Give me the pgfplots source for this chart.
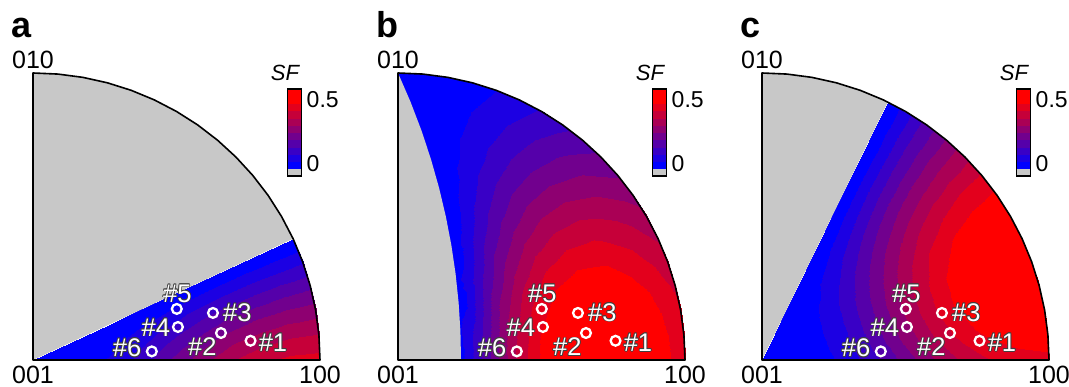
\documentclass[border=0pt]{standalone}
\usepackage{fontspec}
\setmainfont{Liberation Sans}
\usepackage{pgfplots}
\usepackage{pgfplotstable}
\pgfplotsset{compat=1.18}
\definecolor{sfgray}{RGB}{200,200,200}

% Panel a: SF on polar grid (r = stereographic radius, t = azimuth in degrees)
\pgfplotstableread[row sep=\\]{
r t sf\\
0 0 0\\ 0 5 0\\ 0 10 0\\ 0 15 0\\ 0 20 0\\ 0 25 0\\
0.1 0 0.003\\ 0.1 5 0.0025\\ 0.1 10 0.0019\\ 0.1 15 0.0013\\ 0.1 20 0.0007\\ 0.1 25 0\\
0.2 0 0.0218\\ 0.2 5 0.0183\\ 0.2 10 0.0143\\ 0.2 15 0.0097\\ 0.2 20 0.0049\\ 0.2 25 0\\
0.3 0 0.0637\\ 0.3 5 0.0534\\ 0.3 10 0.0416\\ 0.3 15 0.0285\\ 0.3 20 0.0144\\ 0.3 25 0\\
0.4 0 0.1258\\ 0.4 5 0.1054\\ 0.4 10 0.0821\\ 0.4 15 0.0562\\ 0.4 20 0.0285\\ 0.4 25 0\\
0.5 0 0.196\\ 0.5 5 0.1643\\ 0.5 10 0.128\\ 0.5 15 0.0876\\ 0.5 20 0.0444\\ 0.5 25 0\\
0.6 0 0.2627\\ 0.6 5 0.2202\\ 0.6 10 0.1715\\ 0.6 15 0.1173\\ 0.6 20 0.0595\\ 0.6 25 0\\
0.7 0 0.3181\\ 0.7 5 0.2666\\ 0.7 10 0.2077\\ 0.7 15 0.142\\ 0.7 20 0.0721\\ 0.7 25 0\\
0.8 0 0.3561\\ 0.8 5 0.2984\\ 0.8 10 0.2324\\ 0.8 15 0.159\\ 0.8 20 0.0807\\ 0.8 25 0\\
0.9 0 0.3761\\ 0.9 5 0.3152\\ 0.9 10 0.2455\\ 0.9 15 0.1679\\ 0.9 20 0.0852\\ 0.9 25 0\\
1 0 0.383\\ 1 5 0.321\\ 1 10 0.25\\ 1 15 0.171\\ 1 20 0.0868\\ 1 25 0\\
}\tabA

% Panel b
\pgfplotstableread[row sep=\\]{
r t sf\\
0 0 -0.38\\ 0 5 -0.38\\ 0 10 -0.38\\ 0 15 -0.38\\ 0 20 -0.38\\ 0 25 -0.38\\ 0 30 -0.38\\ 0 35 -0.38\\ 0 40 -0.38\\ 0 45 -0.38\\ 0 50 -0.38\\ 0 55 -0.38\\ 0 60 -0.38\\ 0 65 -0.38\\ 0 70 -0.38\\ 0 75 -0.38\\ 0 80 -0.38\\ 0 85 -0.38\\ 0 90 -0.38\\
0.1 0 -0.2245\\ 0.1 5 -0.2251\\ 0.1 10 -0.2268\\ 0.1 15 -0.2298\\ 0.1 20 -0.2338\\ 0.1 25 -0.2389\\ 0.1 30 -0.2451\\ 0.1 35 -0.2522\\ 0.1 40 -0.2602\\ 0.1 45 -0.2689\\ 0.1 50 -0.2782\\ 0.1 55 -0.2883\\ 0.1 60 -0.2987\\ 0.1 65 -0.3095\\ 0.1 70 -0.3205\\ 0.1 75 -0.3318\\ 0.1 80 -0.343\\ 0.1 85 -0.3542\\ 0.1 90 -0.3654\\
0.2 0 -0.0371\\ 0.2 5 -0.0384\\ 0.2 10 -0.0423\\ 0.2 15 -0.0487\\ 0.2 20 -0.0575\\ 0.2 25 -0.0688\\ 0.2 30 -0.082\\ 0.2 35 -0.0973\\ 0.2 40 -0.1143\\ 0.2 45 -0.1328\\ 0.2 50 -0.1525\\ 0.2 55 -0.1733\\ 0.2 60 -0.1947\\ 0.2 65 -0.2166\\ 0.2 70 -0.2386\\ 0.2 75 -0.2606\\ 0.2 80 -0.2823\\ 0.2 85 -0.3036\\ 0.2 90 -0.3241\\
0.3 0 0.1478\\ 0.3 5 0.1458\\ 0.3 10 0.1398\\ 0.3 15 0.13\\ 0.3 20 0.1165\\ 0.3 25 0.0993\\ 0.3 30 0.0791\\ 0.3 35 0.0561\\ 0.3 40 0.0305\\ 0.3 45 0.0029\\ 0.3 50 -0.0261\\ 0.3 55 -0.0565\\ 0.3 60 -0.0875\\ 0.3 65 -0.1188\\ 0.3 70 -0.1499\\ 0.3 75 -0.1805\\ 0.3 80 -0.21\\ 0.3 85 -0.2385\\ 0.3 90 -0.2653\\
0.4 0 0.3058\\ 0.4 5 0.3032\\ 0.4 10 0.2956\\ 0.4 15 0.2826\\ 0.4 20 0.2653\\ 0.4 25 0.2431\\ 0.4 30 0.2171\\ 0.4 35 0.1876\\ 0.4 40 0.1551\\ 0.4 45 0.1203\\ 0.4 50 0.0838\\ 0.4 55 0.0461\\ 0.4 60 0.0079\\ 0.4 65 -0.0301\\ 0.4 70 -0.0674\\ 0.4 75 -0.1035\\ 0.4 80 -0.1376\\ 0.4 85 -0.1698\\ 0.4 90 -0.1995\\
0.5 0 0.418\\ 0.5 5 0.4149\\ 0.5 10 0.4061\\ 0.5 15 0.391\\ 0.5 20 0.371\\ 0.5 25 0.3453\\ 0.5 30 0.3154\\ 0.5 35 0.2816\\ 0.5 40 0.2445\\ 0.5 45 0.205\\ 0.5 50 0.164\\ 0.5 55 0.1218\\ 0.5 60 0.0796\\ 0.5 65 0.0382\\ 0.5 70 -0.002\\ 0.5 75 -0.04\\ 0.5 80 -0.0754\\ 0.5 85 -0.108\\ 0.5 90 -0.137\\
0.6 0 0.4812\\ 0.6 5 0.478\\ 0.6 10 0.4684\\ 0.6 15 0.4522\\ 0.6 20 0.4306\\ 0.6 25 0.4032\\ 0.6 30 0.3711\\ 0.6 35 0.3352\\ 0.6 40 0.2958\\ 0.6 45 0.2542\\ 0.6 50 0.2114\\ 0.6 55 0.1677\\ 0.6 60 0.1245\\ 0.6 65 0.0824\\ 0.6 70 0.0424\\ 0.6 75 0.0052\\ 0.6 80 -0.0285\\ 0.6 85 -0.0586\\ 0.6 90 -0.0844\\
0.7 0 0.5003\\ 0.7 5 0.497\\ 0.7 10 0.4871\\ 0.7 15 0.4706\\ 0.7 20 0.4486\\ 0.7 25 0.4207\\ 0.7 30 0.3882\\ 0.7 35 0.352\\ 0.7 40 0.3125\\ 0.7 45 0.2711\\ 0.7 50 0.2286\\ 0.7 55 0.1858\\ 0.7 60 0.1439\\ 0.7 65 0.1037\\ 0.7 70 0.0662\\ 0.7 75 0.032\\ 0.7 80 0.002\\ 0.7 85 -0.0238\\ 0.7 90 -0.0445\\
0.8 0 0.4833\\ 0.8 5 0.48\\ 0.8 10 0.4704\\ 0.8 15 0.4543\\ 0.8 20 0.4328\\ 0.8 25 0.4056\\ 0.8 30 0.3741\\ 0.8 35 0.339\\ 0.8 40 0.3009\\ 0.8 45 0.2613\\ 0.8 50 0.221\\ 0.8 55 0.1807\\ 0.8 60 0.1419\\ 0.8 65 0.1052\\ 0.8 70 0.0716\\ 0.8 75 0.0419\\ 0.8 80 0.0168\\ 0.8 85 -0.0035\\ 0.8 90 -0.0184\\
0.9 0 0.4394\\ 0.9 5 0.4363\\ 0.9 10 0.4273\\ 0.9 15 0.4119\\ 0.9 20 0.3916\\ 0.9 25 0.3659\\ 0.9 30 0.3364\\ 0.9 35 0.3035\\ 0.9 40 0.2682\\ 0.9 45 0.2316\\ 0.9 50 0.1948\\ 0.9 55 0.1583\\ 0.9 60 0.1237\\ 0.9 65 0.0915\\ 0.9 70 0.0629\\ 0.9 75 0.0385\\ 0.9 80 0.019\\ 0.9 85 0.0046\\ 0.9 90 -0.0042\\
1 0 0.3805\\ 1 5 0.3776\\ 1 10 0.369\\ 1 15 0.355\\ 1 20 0.336\\ 1 25 0.3125\\ 1 30 0.2854\\ 1 35 0.2554\\ 1 40 0.2233\\ 1 45 0.1903\\ 1 50 0.1573\\ 1 55 0.1252\\ 1 60 0.0951\\ 1 65 0.068\\ 1 70 0.0445\\ 1 75 0.0255\\ 1 80 0.0115\\ 1 85 0.0029\\ 1 90 0\\
}\tabB

% Panel c
\pgfplotstableread[row sep=\\]{
r t sf\\
0 0 0\\ 0 8 0\\ 0 16 0\\ 0 24 0\\ 0 32 0\\ 0 40 0\\ 0 48 0\\ 0 56 0\\ 0 64 0\\
0.1 0 0.0031\\ 0.1 8 0.0036\\ 0.1 16 0.0039\\ 0.1 24 0.0038\\ 0.1 32 0.0035\\ 0.1 40 0.0029\\ 0.1 48 0.0021\\ 0.1 56 0.0011\\ 0.1 64 0\\
0.2 0 0.0225\\ 0.2 8 0.0264\\ 0.2 16 0.0283\\ 0.2 24 0.0281\\ 0.2 32 0.0256\\ 0.2 40 0.0212\\ 0.2 48 0.0151\\ 0.2 56 0.0079\\ 0.2 64 0\\
0.3 0 0.0656\\ 0.3 8 0.0771\\ 0.3 16 0.0828\\ 0.3 24 0.0819\\ 0.3 32 0.0748\\ 0.3 40 0.0618\\ 0.3 48 0.0441\\ 0.3 56 0.0229\\ 0.3 64 0\\
0.4 0 0.1294\\ 0.4 8 0.1523\\ 0.4 16 0.1634\\ 0.4 24 0.1618\\ 0.4 32 0.1476\\ 0.4 40 0.1221\\ 0.4 48 0.0871\\ 0.4 56 0.0453\\ 0.4 64 0\\
0.5 0 0.2017\\ 0.5 8 0.2374\\ 0.5 16 0.2546\\ 0.5 24 0.2521\\ 0.5 32 0.2301\\ 0.5 40 0.1903\\ 0.5 48 0.1357\\ 0.5 56 0.0706\\ 0.5 64 0\\
0.6 0 0.2703\\ 0.6 8 0.318\\ 0.6 16 0.3411\\ 0.6 24 0.3378\\ 0.6 32 0.3083\\ 0.6 40 0.2549\\ 0.6 48 0.1818\\ 0.6 56 0.0945\\ 0.6 64 0\\
0.7 0 0.3273\\ 0.7 8 0.3851\\ 0.7 16 0.4131\\ 0.7 24 0.409\\ 0.7 32 0.3733\\ 0.7 40 0.3087\\ 0.7 48 0.2201\\ 0.7 56 0.1145\\ 0.7 64 0\\
0.8 0 0.3663\\ 0.8 8 0.431\\ 0.8 16 0.4623\\ 0.8 24 0.4578\\ 0.8 32 0.4178\\ 0.8 40 0.3455\\ 0.8 48 0.2464\\ 0.8 56 0.1281\\ 0.8 64 0\\
0.9 0 0.3869\\ 0.9 8 0.4553\\ 0.9 16 0.4883\\ 0.9 24 0.4835\\ 0.9 32 0.4413\\ 0.9 40 0.3649\\ 0.9 48 0.2602\\ 0.9 56 0.1353\\ 0.9 64 0\\
1 0 0.394\\ 1 8 0.4636\\ 1 16 0.4973\\ 1 24 0.4924\\ 1 32 0.4494\\ 1 40 0.3716\\ 1 48 0.265\\ 1 56 0.1378\\ 1 64 0\\
}\tabC

% measured grains
\pgfplotstableread{
x y z
0.758 0.067 0
0.655 0.094 0
0.627 0.164 0
0.505 0.115 0
0.501 0.178 0
0.414 0.030 0
}\grains

\tikzset{
  hlo/.style={text=black!75, inner sep=0pt, font=\fontsize{25.5}{25.5}\selectfont},
  hli/.style={text=white, inner sep=0pt, font=\fontsize{25.5}{25.5}\selectfont},
}
\newcommand{\hl}[3]{%
  \node[hlo,xshift=0.8pt] at (axis cs:#1,#2,0) {#3};
  \node[hlo,xshift=-0.8pt] at (axis cs:#1,#2,0) {#3};
  \node[hlo,yshift=0.8pt] at (axis cs:#1,#2,0) {#3};
  \node[hlo,yshift=-0.8pt] at (axis cs:#1,#2,0) {#3};
  \node[hlo,xshift=0.6pt,yshift=0.6pt] at (axis cs:#1,#2,0) {#3};
  \node[hlo,xshift=-0.6pt,yshift=0.6pt] at (axis cs:#1,#2,0) {#3};
  \node[hlo,xshift=0.6pt,yshift=-0.6pt] at (axis cs:#1,#2,0) {#3};
  \node[hlo,xshift=-0.6pt,yshift=-0.6pt] at (axis cs:#1,#2,0) {#3};
  \node[hli] at (axis cs:#1,#2,0) {#3};
}

\pgfplotsset{
  ipf/.style={
    view={0}{90}, hide axis, scale only axis,
    width=287pt, height=287pt,
    xmin=0, xmax=1, ymin=0, ymax=1, zmin=-1, zmax=1,
    clip=false, anchor=south west,
    colormap={sfmap}{rgb255=(0,0,255) rgb255=(28,0,227) rgb255=(57,0,198)
      rgb255=(85,0,170) rgb255=(113,0,142) rgb255=(142,0,113) rgb255=(170,0,85)
      rgb255=(198,0,57) rgb255=(227,0,28) rgb255=(255,0,0) rgb255=(255,0,0)},
    colormap access=piecewise constant,
    point meta min=0, point meta max=0.5,
    colorbar,
    colorbar style={
      at={(parent axis.south west)}, anchor=south west,
      xshift=246pt, yshift=191pt,
      width=14pt, height=80pt, scale only axis,
      ytick=\empty, xtick=\empty,
      axis line style={draw=none},
      extra description/.code={
        \fill[sfgray] (0,-0.0875) rectangle (1,0);
        \draw[line width=1.3pt] (0,-0.0875) rectangle (1,1);
        \node[anchor=west, inner sep=0pt, font=\fontsize{23}{23}\selectfont]
          at ([xshift=5pt]1,0.8625) {0.5};
        \node[anchor=west, inner sep=0pt, font=\fontsize{23}{23}\selectfont]
          at ([xshift=5pt]1,0.0625) {0};
      },
    },
  },
  sfsurf/.style={surf, shader=interp, point meta=\thisrow{sf}},
}

\newcommand{\decor}[1]{%
  \addplot3[black, line width=1.6pt, line join=round, line cap=round] coordinates {
    (0,1,0) (0,0,0) (1,0,0) (0.9962,0.0872,0) (0.9848,0.1736,0) (0.9659,0.2588,0)
    (0.9397,0.3420,0) (0.9063,0.4226,0) (0.8660,0.5,0) (0.8192,0.5736,0)
    (0.7660,0.6428,0) (0.7071,0.7071,0) (0.6428,0.7660,0) (0.5736,0.8192,0)
    (0.5,0.8660,0) (0.4226,0.9063,0) (0.3420,0.9397,0) (0.2588,0.9659,0)
    (0.1736,0.9848,0) (0.0872,0.9962,0) (0,1,0) (0,0.99,0)};
  \addplot3[only marks, white, mark=o, mark size=4.9pt, mark options={line width=2.3pt}] table {\grains};
  \hl{0.836}{0.061}{\#1}
  \hl{0.590}{0.045}{\#2}
  \hl{0.712}{0.166}{\#3}
  \hl{0.428}{0.114}{\#4}
  \hl{0.503}{0.232}{\#5}
  \hl{0.328}{0.043}{\#6}
  \node[anchor=base, inner sep=0pt, font=\fontsize{25}{25}\selectfont] at (axis cs:0,1.017,0) {010};
  \node[anchor=base, inner sep=0pt, font=\fontsize{25}{25}\selectfont] at (axis cs:0,-0.082,0) {001};
  \node[anchor=base, inner sep=0pt, font=\fontsize{25}{25}\selectfont] at (axis cs:1,-0.082,0) {100};
  \node[anchor=base west, inner sep=0pt, font=\bfseries\fontsize{36}{36}\selectfont] at (axis cs:-0.075,1.125,0) {#1};
  \node[anchor=base, inner sep=0pt, font=\itshape\fontsize{22}{22}\selectfont] at (axis cs:0.878,0.974,0) {SF};
}

\begin{document}
\begin{tikzpicture}
\useasboundingbox (0,0) rectangle (1069pt,387pt);

% ---- panel a ----
\begin{axis}[ipf, at={(33pt,27pt)}]
\addplot3[sfsurf, mesh/rows=11, mesh/cols=6]
  table[x expr=\thisrow{r}*cos(\thisrow{t}), y expr=\thisrow{r}*sin(\thisrow{t}), z expr=0] {\tabA};
\addplot3[fill=sfgray, draw=none] coordinates {
  (0,0,0) (0.9063,0.4226,0) (0.8660,0.5,0) (0.8192,0.5736,0) (0.7660,0.6428,0)
  (0.7071,0.7071,0) (0.6428,0.7660,0) (0.5736,0.8192,0) (0.5,0.8660,0)
  (0.4226,0.9063,0) (0.3420,0.9397,0) (0.2588,0.9659,0) (0.1736,0.9848,0)
  (0.0872,0.9962,0) (0,1,0)};
\decor{a}
\end{axis}

% ---- panel b ----
\begin{axis}[ipf, at={(398pt,27pt)}]
\addplot3[fill={rgb,255:red,0;green,0;blue,255}, draw=none] coordinates {
  (0,0,0) (1,0,0) (0.9962,0.0872,0) (0.9848,0.1736,0) (0.9659,0.2588,0)
  (0.9397,0.3420,0) (0.9063,0.4226,0) (0.8660,0.5,0) (0.8192,0.5736,0)
  (0.7660,0.6428,0) (0.7071,0.7071,0) (0.6428,0.7660,0) (0.5736,0.8192,0)
  (0.5,0.8660,0) (0.4226,0.9063,0) (0.3420,0.9397,0) (0.2588,0.9659,0)
  (0.1736,0.9848,0) (0.0872,0.9962,0) (0,1,0)};
\addplot3[sfsurf, mesh/rows=11, mesh/cols=19]
  table[x expr=\thisrow{r}*cos(\thisrow{t}), y expr=\thisrow{r}*sin(\thisrow{t}), z expr=0] {\tabB};
\addplot3[fill=sfgray, draw=none] coordinates {
  (0,0,0) (0.2196,0,0) (0.2175,0.1,0) (0.2112,0.2,0) (0.2007,0.3,0) (0.1859,0.4,0)
  (0.1667,0.5,0) (0.1430,0.6,0) (0.1147,0.7,0) (0.0816,0.8,0) (0.0434,0.9,0) (0,1,0)};
\decor{b}
\end{axis}

% ---- panel c ----
\begin{axis}[ipf, at={(762pt,27pt)}]
\addplot3[sfsurf, mesh/rows=11, mesh/cols=9]
  table[x expr=\thisrow{r}*cos(\thisrow{t}), y expr=\thisrow{r}*sin(\thisrow{t}), z expr=0] {\tabC};
\addplot3[fill=sfgray, draw=none] coordinates {
  (0,0,0) (0.4384,0.8988,0) (0.4226,0.9063,0) (0.3420,0.9397,0) (0.2588,0.9659,0)
  (0.1736,0.9848,0) (0.0872,0.9962,0) (0,1,0)};
\decor{c}
\end{axis}
\end{tikzpicture}
\end{document}
